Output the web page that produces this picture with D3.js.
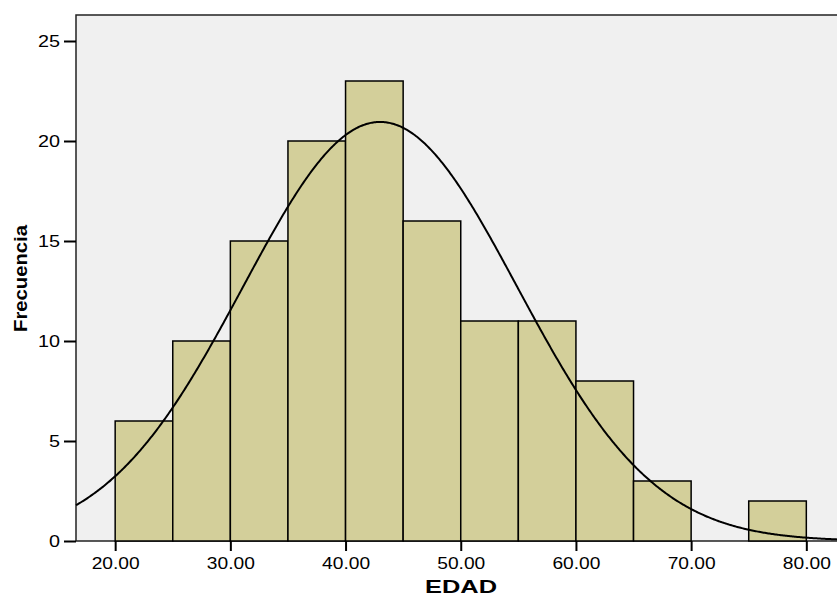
<!DOCTYPE html>
<html>
<head>
<meta charset="utf-8">
<script src="https://cdn.jsdelivr.net/npm/d3@7"></script>
<style>
  body { margin: 0; background: #fff; }
  text { font-family: "Liberation Sans", Arial, sans-serif; }
</style>
</head>
<body>
<div class="graphContainer"></div>
<script>
// histogram bins of EDAD (start of each 5-year bin) and counts
const binStarts = [20, 25, 30, 35, 40, 45, 50, 55, 60, 65, 70, 75];
const counts = [6, 10, 15, 20, 23, 16, 11, 11, 8, 3, 0, 2];
const binWidth = 5;
const xTicks = [20, 30, 40, 50, 60, 70, 80];
const yTicks = [0, 5, 10, 15, 20, 25];
// fitted normal curve parameters
const curveMean = 43.0,
  curveSd = 11.9,
  curveN = 125;

function drawHistogram() {
  const w = 837,
    h = 598,
    left = 76,
    right = 838,
    top = 15,
    bottom = 541;

  const bins = binStarts
    .map(function (d, i) { return { start: d, count: counts[i] }; })
    .filter(function (d) { return d.count > 0; });

  const x = d3.scaleLinear()
    .domain([16.6, 82.75])
    .range([left, right]);

  const y = d3.scaleLinear()
    .domain([0, 26.3])
    .range([bottom, top]);

  const canvas = d3.select(".graphContainer")
    .append("svg")
    .attr("width", w)
    .attr("height", h);

  canvas.append("rect")
    .attr("x", left)
    .attr("y", top)
    .attr("width", right - left)
    .attr("height", bottom - top)
    .attr("fill", "#f0f0f0")
    .attr("stroke", "#222")
    .attr("stroke-width", 1.5);

  canvas.selectAll("rect.bar")
    .data(bins)
    .enter()
    .append("rect")
    .attr("class", "bar")
    .attr("x", function (d) { return x(d.start); })
    .attr("width", function (d) { return x(d.start + binWidth) - x(d.start); })
    .attr("y", function (d) { return y(d.count); })
    .attr("height", function (d) { return y(0) - y(d.count); })
    .attr("fill", "#d3cf9a")
    .attr("stroke", "#000")
    .attr("stroke-width", 1.5);

  // normal curve
  const scale = curveN * binWidth / (curveSd * Math.sqrt(2 * Math.PI));
  const pts = d3.range(x.domain()[0], x.domain()[1] + 0.01, 0.1);
  const line = d3.line()
    .x(function (d) { return x(d); })
    .y(function (d) {
      const z = (d - curveMean) / curveSd;
      return y(scale * Math.exp(-0.5 * z * z));
    });

  canvas.append("path")
    .datum(pts)
    .attr("d", line)
    .attr("fill", "none")
    .attr("stroke", "#000")
    .attr("stroke-width", 2);

  const xAxis = d3.axisBottom(x)
    .tickValues(xTicks)
    .tickSize(10)
    .tickFormat(d3.format(".2f"));

  const gx = canvas.append("g")
    .attr("transform", "translate(0," + bottom + ")")
    .call(xAxis);
  gx.select(".domain").remove();
  gx.selectAll("line").attr("stroke", "#000").attr("stroke-width", 2);
  gx.selectAll("text")
    .attr("y", 28)
    .attr("dy", 0)
    .attr("font-size", 16)
    .attr("fill", "#000")
    .attr("textLength", 48)
    .attr("lengthAdjust", "spacingAndGlyphs");

  const yAxis = d3.axisLeft(y)
    .tickValues(yTicks)
    .tickSize(12)
    .tickFormat(d3.format("d"));

  const gy = canvas.append("g")
    .attr("transform", "translate(" + left + ",0)")
    .call(yAxis);
  gy.select(".domain").remove();
  gy.selectAll("line").attr("stroke", "#000").attr("stroke-width", 2);
  gy.selectAll("text")
    .attr("x", -16)
    .attr("font-size", 16)
    .attr("fill", "#000")
    .attr("textLength", function (d) { return String(d).length * 11; })
    .attr("lengthAdjust", "spacingAndGlyphs");

  canvas.append("text")
    .attr("x", 461)
    .attr("y", 593)
    .attr("text-anchor", "middle")
    .attr("font-size", 19)
    .attr("font-weight", "bold")
    .attr("textLength", 72)
    .attr("lengthAdjust", "spacingAndGlyphs")
    .text("EDAD");

  canvas.append("text")
    .attr("transform", "translate(27,278.5) rotate(-90)")
    .attr("text-anchor", "middle")
    .attr("font-size", 19)
    .attr("font-weight", "bold")
    .attr("textLength", 107)
    .attr("lengthAdjust", "spacingAndGlyphs")
    .text("Frecuencia");
}

drawHistogram();
</script>
</body>
</html>
